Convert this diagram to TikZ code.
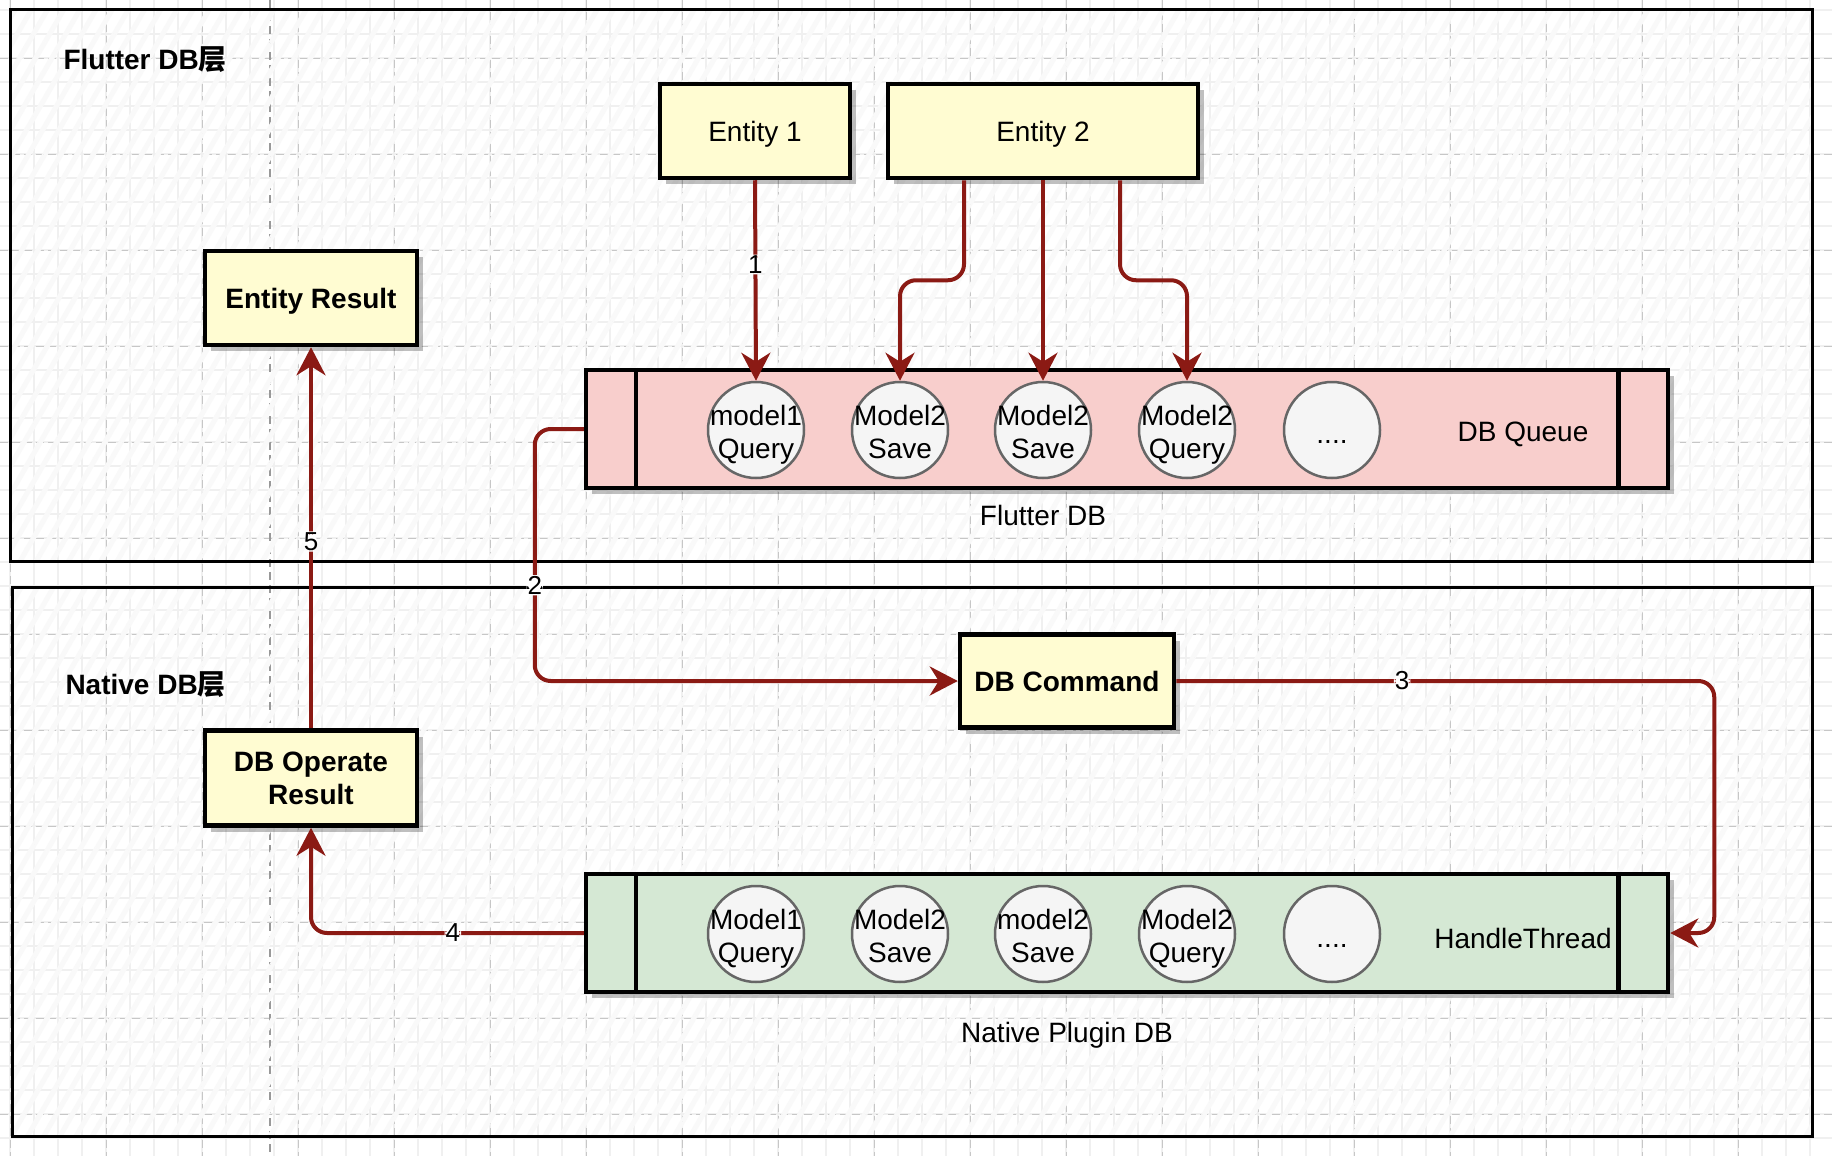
\documentclass[tikz,border=0pt]{standalone}
\usepackage{fontspec}
\setmainfont{Liberation Sans}
\newfontfamily\cjk{Noto Sans CJK SC}
\usetikzlibrary{arrows.meta,shadows,patterns.meta}
\definecolor{flowred}{RGB}{139,26,20}
\definecolor{boxyellow}{RGB}{255,252,210}
\definecolor{queuepink}{RGB}{248,206,204}
\definecolor{threadgreen}{RGB}{213,232,212}
\definecolor{itemgray}{RGB}{245,245,245}
\tikzset{
  txt/.style={font=\fontsize{28}{33}\selectfont},
  bold/.style={font=\fontsize{28}{33}\selectfont\bfseries},
  box/.style={draw,line width=4.5pt,fill=boxyellow,align=center,inner sep=0pt,text depth=0pt,
    drop shadow={shadow xshift=6pt,shadow yshift=-6pt,fill=black,opacity=.25}},
  proc/.style={draw,line width=4.5pt,minimum width=1082pt,minimum height=118pt,
    drop shadow={shadow xshift=6pt,shadow yshift=-6pt,fill=black,opacity=.25}},
  item/.style={circle,draw=black!60,line width=2.5pt,fill=itemgray,minimum size=96pt,inner sep=0pt},
  itemtext/.style={txt,align=center,inner sep=0pt,text depth=0pt},
  flow/.style={draw=flowred,line width=4pt,rounded corners=16pt,-{Stealth[length=28pt,width=29pt,inset=9pt]}},
  lbl/.style={font=\fontsize{26}{28}\selectfont,fill=white,inner sep=1pt},
}
\begin{document}
\begin{tikzpicture}[x=1pt,y=-1pt]
\useasboundingbox (0,0) rectangle (1832,1156);
\fill[white] (0,0) rectangle (1832,1156);
\foreach \x in {10,34,...,1832} \draw[black!6,line width=2pt] (\x,0) -- (\x,1156);
\foreach \y in {10,34,...,1156} \draw[black!6,line width=2pt] (0,\y) -- (1832,\y);
\foreach \x in {10,106,...,1832} \draw[black!22,dash pattern=on 8pt off 4pt] (\x,0) -- (\x,1156);
\foreach \y in {58,154,...,1156} \draw[black!22,dash pattern=on 8pt off 4pt] (0,\y) -- (1832,\y);
\draw[black!40,dash pattern=on 8pt off 5pt,line width=1.5pt] (270,0) -- (270,1156);
\draw[line width=3pt,pattern={Lines[angle=60,distance=14pt,line width=5pt]},pattern color=black!2.5] (10,10) rectangle (1812,561);
\draw[line width=3pt,pattern={Lines[angle=60,distance=14pt,line width=5pt]},pattern color=black!2.5] (12,587) rectangle (1812,1136);
\node[bold,anchor=west] (flutterlayer) at (60,60) {Flutter DB{\cjk 层}};
\node[bold,anchor=west] (nativelayer) at (62,685) {Native DB{\cjk 层}};
\node[box,txt,minimum width=190pt,minimum height=94pt] (e1) at (755,131) {Entity 1};
\node[box,txt,minimum width=310pt,minimum height=94pt] (e2) at (1043,131) {Entity 2};
\node[box,bold,minimum width=212pt,minimum height=94pt] (er) at (311,298) {Entity Result};
\node[box,bold,minimum width=212pt,minimum height=95pt] (dbr) at (311,778) {DB Operate\\Result};
\node[box,bold,minimum width=214pt,minimum height=93pt] (cmd) at (1067,681) {DB Command};
\node[proc,fill=queuepink] (dbq) at (1127,429) {};
\node[proc,fill=threadgreen] (ht) at (1127,933) {};
\draw[line width=4.5pt] ([xshift=52pt]dbq.north west) -- ([xshift=52pt]dbq.south west)
  ([xshift=-52pt]dbq.north east) -- ([xshift=-52pt]dbq.south east);
\draw[line width=4.5pt] ([xshift=52pt]ht.north west) -- ([xshift=52pt]ht.south west)
  ([xshift=-52pt]ht.north east) -- ([xshift=-52pt]ht.south east);
\foreach \i/\x/\top/\bot in {1/756/{model1\\Query}/{Model1\\Query},2/900/{Model2\\Save}/{Model2\\Save},3/1043/{Model2\\Save}/{model2\\Save},4/1187/{Model2\\Query}/{Model2\\Query},5/1332/{\strut....}/{\strut....}} {
  \node[item] (q\i) at (\x,430) {};
  \node[itemtext] (qt\i) at ([yshift=-2pt]q\i) {\top};
  \node[item] (h\i) at (\x,934) {};
  \node[itemtext] (ht\i) at ([yshift=-2pt]h\i) {\bot};
}
\node[txt] (dbqname) at (1523,434) {DB Queue};
\node[txt] (htname) at (1523,938) {HandleThread};
\node[txt] (flutterdb) at (1043,515) {Flutter DB};
\node[txt] (plugindb) at (1067,1035) {Native Plugin DB};
\draw[flow] (e1.south) -- node[lbl,pos=.42]{1} (q1.north);
\draw[flow] ([xshift=-79pt]e2.south) -- ++(0,100) -| (q2.north);
\draw[flow] (e2.south) -- (q3.north);
\draw[flow] ([xshift=77pt]e2.south) -- ++(0,100) -| (q4.north);
\draw[flow] (dbq.west) -- ++(-49,0) |- node[lbl,pos=.31]{2} (cmd.west);
\draw[flow] (cmd.east) -- node[lbl,pos=.42]{3} ++(538,0) |- (ht.east);
\draw[flow] (ht.west) -| node[lbl,pos=.24]{4} (dbr.south);
\draw[flow] (dbr.north) -- node[lbl,pos=.49]{5} (er.south);
\end{tikzpicture}
\end{document}
